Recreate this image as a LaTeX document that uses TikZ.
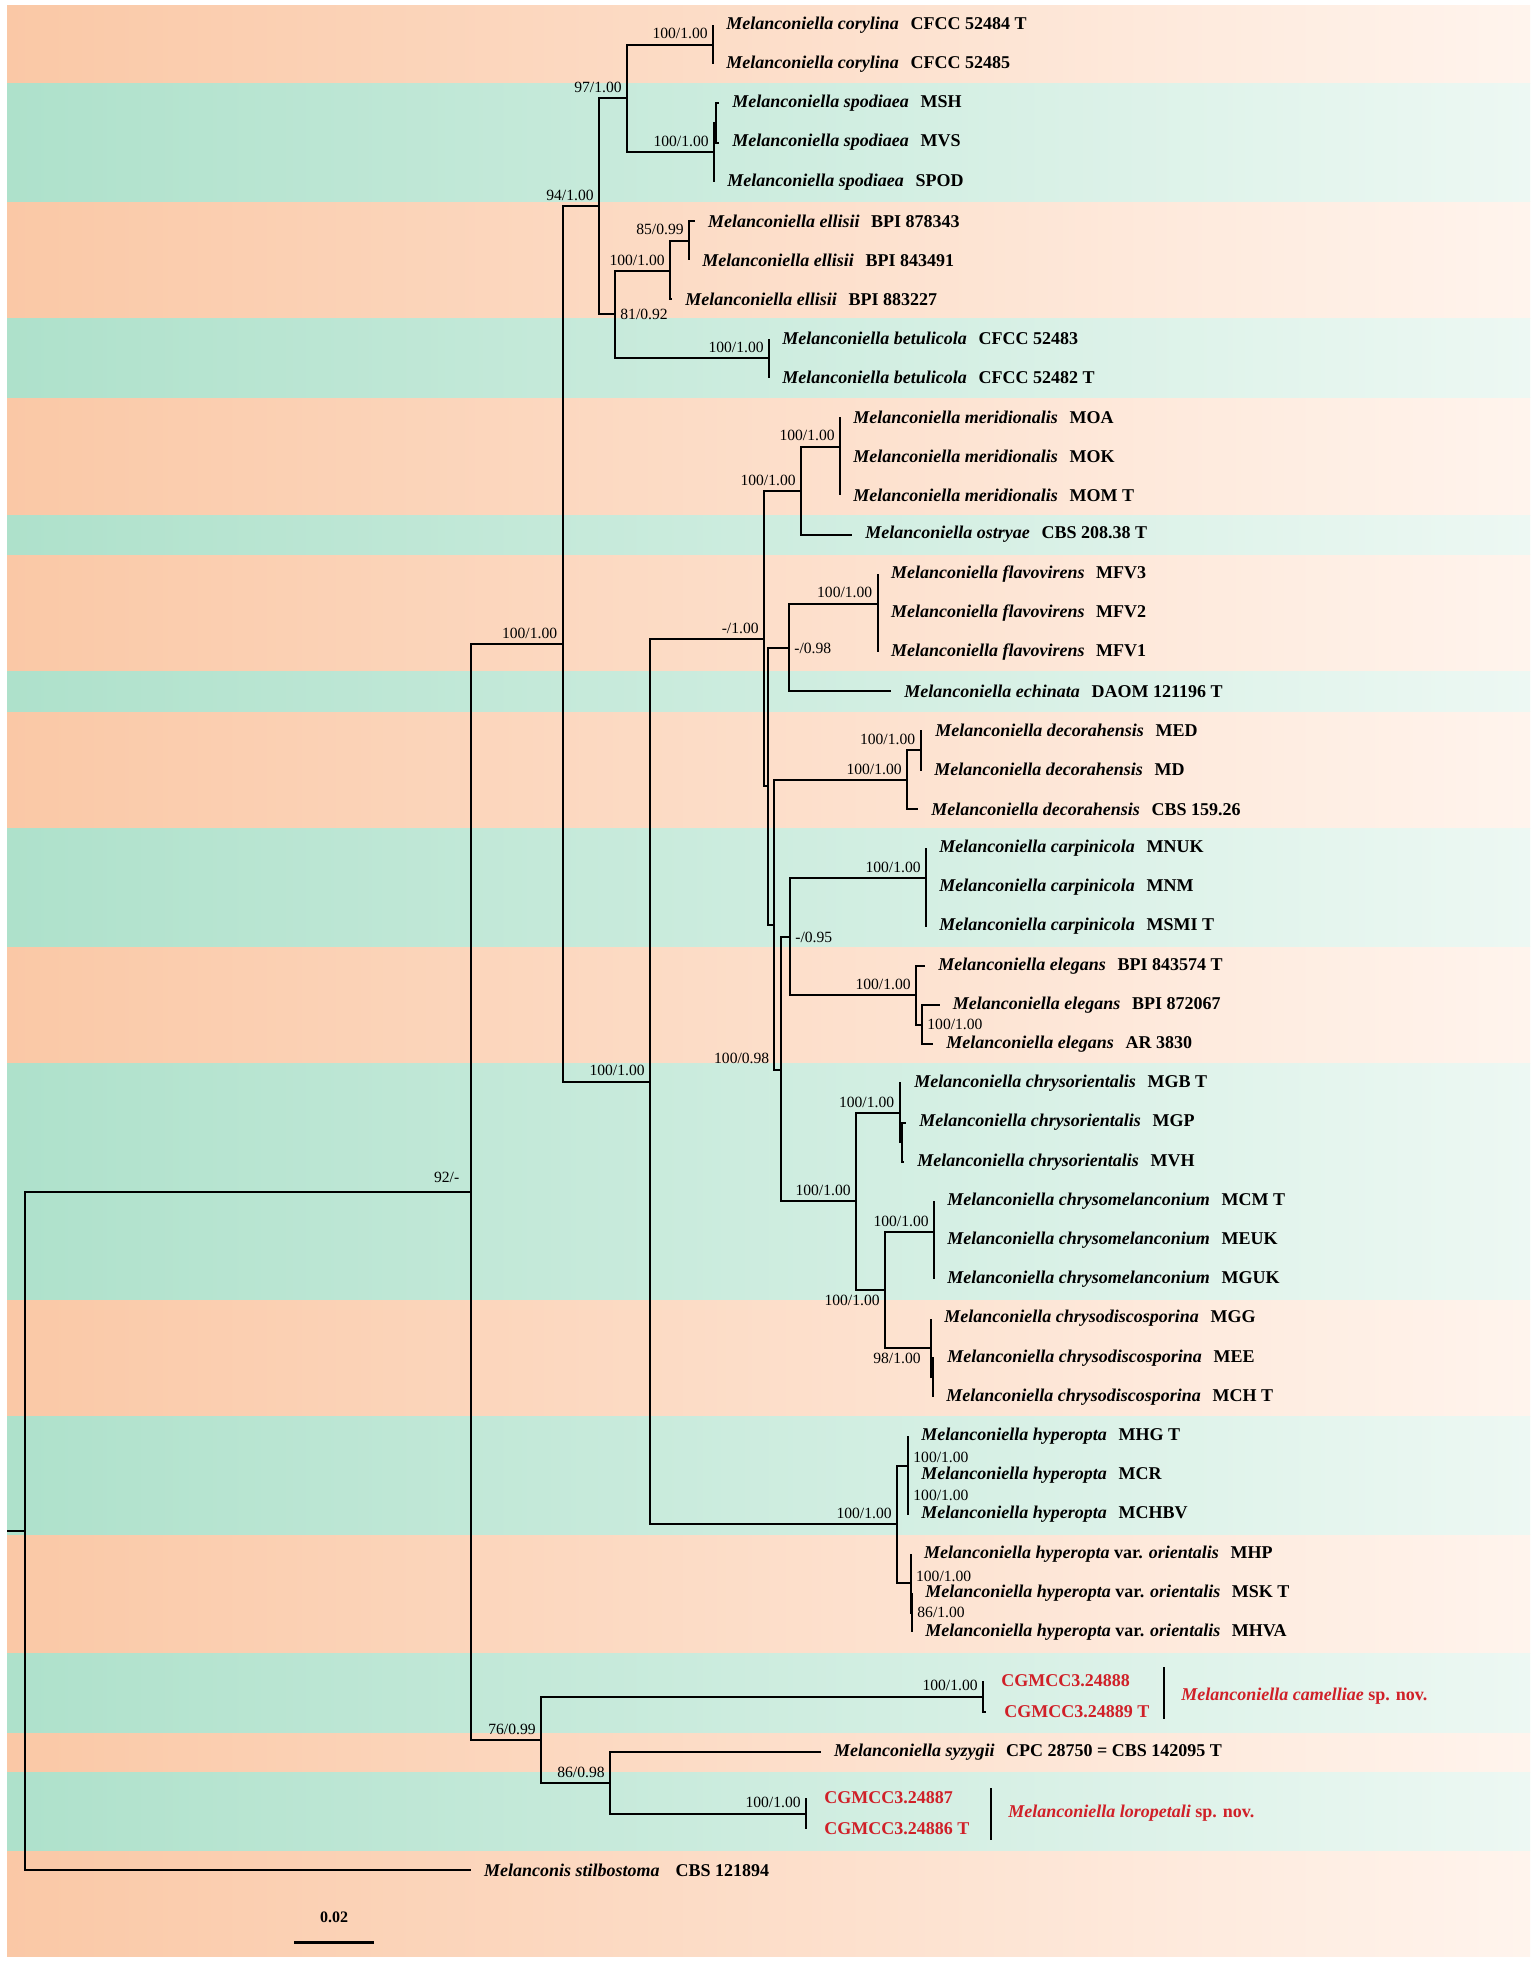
\documentclass[tikz,border=0pt]{standalone}
\usepackage{fontspec}
\setmainfont{Liberation Serif}
\usepackage{xcolor}
\usepackage{tikz}
\definecolor{orL}{RGB}{250,200,166}
\definecolor{orR}{RGB}{255,244,237}
\definecolor{grL}{RGB}{174,225,203}
\definecolor{grR}{RGB}{237,248,243}
\definecolor{newred}{RGB}{208,32,40}
\newcommand{\taxlab}[2]{\textit{#1}\hspace{.65em}#2}
\tikzset{br/.style={line width=1pt}}
\tikzset{tip/.style={anchor=west, inner xsep=6.5pt, inner ysep=0pt, font=\fontsize{9}{10}\selectfont\bfseries}}
\tikzset{newtip/.style={tip, inner xsep=9pt, text=newred}}
\tikzset{bs/.style={font=\fontsize{7.8}{9}\selectfont, inner sep=2.5pt}}

\begin{document}
\begin{tikzpicture}[x=0.5pt,y=-0.5pt]
\useasboundingbox (0,0) rectangle (1535,1963);
\fill[white] (0,0) rectangle (1535,1963);
% bands
\foreach \ya/\yb in {5.4/83.8, 201.4/319, 397.4/515, 554.2/671.8, 711/828.6, 946.2/1063.8, 1299/1416.6, 1534.2/1653, 1732/1772, 1850/1956}
  \shade[left color=orL, right color=orR] (7,\ya) rectangle (1530,\yb);
\foreach \ya/\yb in {83.8/201.4, 319/397.4, 515/554.2, 671.8/711, 828.6/946.2, 1063.8/1299, 1416.6/1534.2, 1653/1732, 1772/1850}
  \shade[left color=grL, right color=grR] (7,\ya) rectangle (1530,\yb);

% taxa
\node[tip] (c1) at (713,25) {\taxlab{Melanconiella corylina}{CFCC 52484 T}};
\node[tip] (c2) at (713,64.2) {\taxlab{Melanconiella corylina}{CFCC 52485}};
\node[tip] (s1) at (719,103.4) {\taxlab{Melanconiella spodiaea}{MSH}};
\node[tip] (s2) at (719,142.6) {\taxlab{Melanconiella spodiaea}{MVS}};
\node[tip] (s3) at (714,181.8) {\taxlab{Melanconiella spodiaea}{SPOD}};
\node[tip] (e1) at (694.6,221) {\taxlab{Melanconiella ellisii}{BPI 878343}};
\node[tip] (e2) at (689,260.2) {\taxlab{Melanconiella ellisii}{BPI 843491}};
\node[tip] (e3) at (672,299.4) {\taxlab{Melanconiella ellisii}{BPI 883227}};
\node[tip] (b1) at (769,338.6) {\taxlab{Melanconiella betulicola}{CFCC 52483}};
\node[tip] (b2) at (769,377.8) {\taxlab{Melanconiella betulicola}{CFCC 52482 T}};
\node[tip] (m1) at (840,417) {\taxlab{Melanconiella meridionalis}{MOA}};
\node[tip] (m2) at (840,456.2) {\taxlab{Melanconiella meridionalis}{MOK}};
\node[tip] (m3) at (840,495.4) {\taxlab{Melanconiella meridionalis}{MOM T}};
\node[tip] (o1) at (852,534.6) {\taxlab{Melanconiella ostryae}{CBS 208.38 T}};
\node[tip] (f1) at (877.6,573.8) {\taxlab{Melanconiella flavovirens}{MFV3}};
\node[tip] (f2) at (877.6,613) {\taxlab{Melanconiella flavovirens}{MFV2}};
\node[tip] (f3) at (877.6,652.2) {\taxlab{Melanconiella flavovirens}{MFV1}};
\node[tip] (ec) at (891,691.4) {\taxlab{Melanconiella echinata}{DAOM 121196 T}};
\node[tip] (d1) at (922,730.6) {\taxlab{Melanconiella decorahensis}{MED}};
\node[tip] (d2) at (921,769.8) {\taxlab{Melanconiella decorahensis}{MD}};
\node[tip] (d3) at (918,809) {\taxlab{Melanconiella decorahensis}{CBS 159.26}};
\node[tip] (k1) at (926,848.2) {\taxlab{Melanconiella carpinicola}{MNUK}};
\node[tip] (k2) at (926,887.4) {\taxlab{Melanconiella carpinicola}{MNM}};
\node[tip] (k3) at (926,926.6) {\taxlab{Melanconiella carpinicola}{MSMI T}};
\node[tip] (g1) at (925,965.8) {\taxlab{Melanconiella elegans}{BPI 843574 T}};
\node[tip] (g2) at (939.5,1005) {\taxlab{Melanconiella elegans}{BPI 872067}};
\node[tip] (g3) at (933,1044.2) {\taxlab{Melanconiella elegans}{AR 3830}};
\node[tip] (r1) at (901,1083.4) {\taxlab{Melanconiella chrysorientalis}{MGB T}};
\node[tip] (r2) at (906,1122.6) {\taxlab{Melanconiella chrysorientalis}{MGP}};
\node[tip] (r3) at (904,1161.8) {\taxlab{Melanconiella chrysorientalis}{MVH}};
\node[tip] (u1) at (934,1201) {\taxlab{Melanconiella chrysomelanconium}{MCM T}};
\node[tip] (u2) at (934,1240.2) {\taxlab{Melanconiella chrysomelanconium}{MEUK}};
\node[tip] (u3) at (934,1279.4) {\taxlab{Melanconiella chrysomelanconium}{MGUK}};
\node[tip] (q1) at (931,1318.6) {\taxlab{Melanconiella chrysodiscosporina}{MGG}};
\node[tip] (q2) at (934,1357.8) {\taxlab{Melanconiella chrysodiscosporina}{MEE}};
\node[tip] (q3) at (933,1397) {\taxlab{Melanconiella chrysodiscosporina}{MCH T}};
\node[tip] (h1) at (908,1436.2) {\taxlab{Melanconiella hyperopta}{MHG T}};
\node[tip] (h2) at (908,1475.4) {\taxlab{Melanconiella hyperopta}{MCR}};
\node[tip] (h3) at (908,1514.6) {\taxlab{Melanconiella hyperopta}{MCHBV}};
\node[tip] (v1) at (910.7,1553.8) {\taxlab{Melanconiella hyperopta \textup{var.} orientalis}{MHP}};
\node[tip] (v2) at (912,1593) {\taxlab{Melanconiella hyperopta \textup{var.} orientalis}{MSK T}};
\node[tip] (v3) at (912,1632.2) {\taxlab{Melanconiella hyperopta \textup{var.} orientalis}{MHVA}};
\node[newtip] (n1) at (983,1681) {CGMCC3.24888};
\node[newtip] (n2) at (986,1712) {CGMCC3.24889 T};
\node[tip] (sz) at (820.6,1752) {\taxlab{Melanconiella syzygii}{CPC 28750 = CBS 142095 T}};
\node[newtip] (n3) at (806,1798) {CGMCC3.24887};
\node[newtip] (n4) at (806,1829) {CGMCC3.24886 T};
\node[tip] (st) at (470.6,1870) {\textit{Melanconis stilbostoma}\hspace{.9em}CBS 121894};

% inner nodes
\coordinate[label={[bs]above left:100/1.00}] (cor) at (713,44.6);
\coordinate (spa) at (716,123);
\coordinate[label={[bs]above left:100/1.00}] (spo) at (714,152.4);
\coordinate[label={[bs]above left:97/1.00}] (n97) at (627,98.5);
\coordinate[label={[bs]above left:85/0.99}] (ela) at (689,240.6);
\coordinate[label={[bs]above left:100/1.00}] (ell) at (670,271);
\coordinate[label={[bs]above left:100/1.00}] (bet) at (769,358.2);
\coordinate[label={[bs]right:81/0.92}] (n81) at (615,314);
\coordinate[label={[bs]above left:94/1.00}] (n94) at (599,206);
\coordinate[label={[bs]above left:100/1.00}] (mer) at (840,446.6);
\coordinate[label={[bs]above left:100/1.00}] (mo) at (801,491);
\coordinate[label={[bs]above left:100/1.00}] (fla) at (877.6,603.5);
\coordinate[label={[bs]right:-/0.98}] (fe) at (789,648);
\coordinate[label={[bs]above left:100/1.00}] (dea) at (920.5,750.2);
\coordinate[label={[bs]above left:100/1.00}] (dec) at (907,780);
\coordinate[label={[bs]above left:100/1.00}] (car) at (926,878);
\coordinate[label={[bs]right:100/1.00}] (ega) at (922,1024.6);
\coordinate[label={[bs]above left:100/1.00}] (ele) at (916,995.2);
\coordinate[label={[bs]right:-/0.95}] (ce) at (790,937);
\coordinate (ora) at (901.5,1142.2);
\coordinate[label={[bs]above left:100/1.00}] (ori) at (899.5,1112.8);
\coordinate[label={[bs]above left:100/1.00}] (mel) at (934,1232);
\coordinate (dsa) at (933,1377.4);
\coordinate[label={[bs,xshift=-2.5pt]below left:98/1.00}] (dis) at (931,1348);
\coordinate[label={[bs]below left:100/1.00}] (md) at (885,1290);
\coordinate[label={[bs]above left:100/1.00}] (chr) at (856,1201.4);
\coordinate[label={[bs,xshift=-3pt]above left:100/0.98}] (n98) at (780.6,1069.5);
\coordinate (yy) at (774,924.8);
\coordinate (xx) at (768,786.4);
\coordinate[label={[bs]above left:-/1.00}] (nm1) at (764,638.7);
\coordinate[label={[bs,yshift=4pt]right:100/1.00}] (hy1) at (908,1465.6);
\coordinate[label={[bs]right:100/1.00}] (hyb) at (908,1495);
\coordinate[label={[bs,yshift=3.5pt]right:100/1.00}] (va1) at (910.7,1583.2);
\coordinate[label={[bs]right:86/1.00}] (va2) at (912,1612.6);
\coordinate[label={[bs]above left:100/1.00}] (hyp) at (897,1524.4);
\coordinate[label={[bs]above left:100/1.00}] (nb) at (650,1081.5);
\coordinate[label={[bs]above left:100/1.00}] (na) at (562.5,643.8);
\coordinate[label={[bs]above left:100/1.00}] (cam) at (983,1696.5);
\coordinate[label={[bs]above left:100/1.00}] (lor) at (806,1813.5);
\coordinate[label={[bs]above left:86/0.98}] (n86) at (610,1782.8);
\coordinate[label={[bs]above left:76/0.99}] (n76) at (541,1739.6);
\coordinate[label={[bs,xshift=-3pt,yshift=2pt]above left:92/-}] (n92) at (470.6,1191.7);
\coordinate (root) at (24.5,1530.8);
\coordinate (rt0) at (7,1530.8);

% branches
\draw[br] (cor) |- (c1.west) (cor) |- (c2.west);
\draw[br] (spa) |- (s1.west) (spa) |- (s2.west);
\draw[br] (spo) |- (spa) (spo) |- (s3.west);
\draw[br] (n97) |- (cor) (n97) |- (spo);
\draw[br] (ela) |- (e1.west) (ela) |- (e2.west);
\draw[br] (ell) |- (ela) (ell) |- (e3.west);
\draw[br] (bet) |- (b1.west) (bet) |- (b2.west);
\draw[br] (n81) |- (ell) (n81) |- (bet);
\draw[br] (n94) |- (n97) (n94) |- (n81);
\draw[br] (mer) |- (m1.west) (mer) |- (m2.west) (mer) |- (m3.west);
\draw[br] (mo) |- (mer) (mo) |- (o1.west);
\draw[br] (fla) |- (f1.west) (fla) |- (f2.west) (fla) |- (f3.west);
\draw[br] (fe) |- (fla) (fe) |- (ec.west);
\draw[br] (dea) |- (d1.west) (dea) |- (d2.west);
\draw[br] (dec) |- (dea) (dec) |- (d3.west);
\draw[br] (car) |- (k1.west) (car) |- (k2.west) (car) |- (k3.west);
\draw[br] (ega) |- (g2.west) (ega) |- (g3.west);
\draw[br] (ele) |- (g1.west) (ele) |- (ega);
\draw[br] (ce) |- (car) (ce) |- (ele);
\draw[br] (ora) |- (r2.west) (ora) |- (r3.west);
\draw[br] (ori) |- (r1.west) (ori) |- (ora);
\draw[br] (mel) |- (u1.west) (mel) |- (u2.west) (mel) |- (u3.west);
\draw[br] (dsa) |- (q2.west) (dsa) |- (q3.west);
\draw[br] (dis) |- (q1.west) (dis) |- (dsa);
\draw[br] (md) |- (mel) (md) |- (dis);
\draw[br] (chr) |- (ori) (chr) |- (md);
\draw[br] (n98) |- (ce) (n98) |- (chr);
\draw[br] (yy) |- (dec) (yy) |- (n98);
\draw[br] (xx) |- (fe) (xx) |- (yy);
\draw[br] (nm1) |- (mo) (nm1) |- (xx);
\draw[br] (hyb) |- (h2.west) (hyb) |- (h3.west);
\draw[br] (hy1) |- (h1.west) (hy1) |- (hyb);
\draw[br] (va2) |- (v2.west) (va2) |- (v3.west);
\draw[br] (va1) |- (v1.west) (va1) |- (va2);
\draw[br] (hyp) |- (hy1) (hyp) |- (va1);
\draw[br] (nb) |- (nm1) (nb) |- (hyp);
\draw[br] (na) |- (n94) (na) |- (nb);
\draw[br] (cam) |- (n1.west) (cam) |- (n2.west);
\draw[br] (lor) |- (n3.west) (lor) |- (n4.west);
\draw[br] (n86) |- (sz.west) (n86) |- (lor);
\draw[br] (n76) |- (cam) (n76) |- (n86);
\draw[br] (n92) |- (na) (n92) |- (n76);
\draw[br] (root) |- (n92) (root) |- (st.west);
\draw[br] (rt0) -- (root);

% new species brackets
\coordinate (cb1) at (1164,1667);
\coordinate (cb2) at (1164,1719);
\draw[line width=0.8pt] (cb1) -- (cb2);
\node[tip, text=newred, inner xsep=0pt] (camname) at (1181,1696) {\textit{Melanconiella camelliae} sp. nov.};
\coordinate (lb1) at (991,1788);
\coordinate (lb2) at (991,1840);
\draw[line width=0.8pt] (lb1) -- (lb2);
\node[tip, text=newred, inner xsep=0pt] (lorname) at (1008,1813) {\textit{Melanconiella loropetali} sp. nov.};

% scale bar
\node[font=\fontsize{8}{9}\selectfont\bfseries] (scl) at (334,1917) {0.02};
\coordinate (sb1) at (294,1942);
\coordinate (sb2) at (374,1942);
\draw[line width=1.5pt] (sb1) -- (sb2);
\end{tikzpicture}
\end{document}
